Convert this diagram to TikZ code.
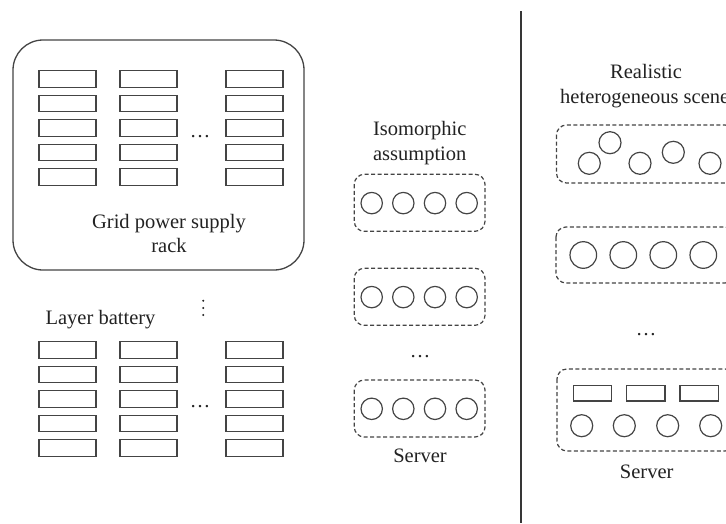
\documentclass[tikz,border=0pt]{standalone}
\usepackage{fontspec}
\setmainfont{Liberation Serif}
\definecolor{ln}{HTML}{444444}
\definecolor{tx}{HTML}{222222}
\tikzset{
  lbl/.style={text=tx, inner sep=0pt, anchor=base, font=\fontsize{20.5}{24.5}\selectfont},
  cell/.style={draw=ln, line width=1.3pt},
  dbox/.style={draw=ln, line width=1.2pt, dash pattern=on 4pt off 2.5pt, rounded corners=10pt},
  circ/.style={draw=ln, line width=1.2pt},
  sep/.style={draw=ln!80!black, line width=2pt}
}
\begin{document}
\begin{tikzpicture}[x=1pt,y=-1pt]
\useasboundingbox (0,0) rectangle (726,523);
\clip (0,0) rectangle (726,523);
% ---------- left: grid power supply rack ----------
\draw[draw=ln, line width=1.3pt, rounded corners=30pt] (13,40) rectangle (304,270);
\foreach \cx in {39,120,226}{
  \foreach \ry in {70.7,95.2,119.7,144.2,168.7}{
    \draw[cell] (\cx,\ry) rectangle ++(57,16.5);
  }
}
\node[lbl] (dotsA) at (200,137) {…};
\node[lbl] (grid1) at (169,228) {Grid power supply};
\node[lbl] (grid2) at (169,252) {rack};
% vertical dots
\foreach \vy in {300.7,308,315}{
  \fill[tx] (203.3,\vy) circle (1.1pt);
}
% ---------- left: layer battery ----------
\node[lbl] (layer) at (100.5,324.5) {Layer battery};
\foreach \cx in {39,120,226}{
  \foreach \ry in {341.7,366.2,390.7,415.2,439.7}{
    \draw[cell] (\cx,\ry) rectangle ++(57,16.5);
  }
}
\node[lbl] (dotsB) at (200,407.5) {…};
% ---------- middle: isomorphic assumption ----------
\node[lbl] (iso1) at (419.7,135.7) {Isomorphic};
\node[lbl] (iso2) at (419.7,160.2) {assumption};
\foreach \by in {174.3,268.3,380}{
  \draw[dbox] (354.3,\by) rectangle ++(130.7,57);
  \foreach \cx in {371.7,403.3,435,466.7}{
    \draw[circ] (\cx,\by+28.8) circle (10.7pt);
  }
}
\node[lbl] (dotsC) at (420,357) {…};
\node[lbl] (srvA) at (420,462.7) {Server};
% ---------- separator ----------
\draw[sep] (520.5,11) -- (520.5,523);
% ---------- right: realistic heterogeneous scene ----------
\node[lbl] (real1) at (646,78.3) {Realistic};
\node[lbl, anchor=base west] (real2) at (560,103) {heterogeneous scene};
\draw[dbox] (556.5,125) rectangle (735,183);
\foreach \cx/\cy in {589.3/163.3,610/142.7,640/163.3,673.3/152.3,710/163.3}{
  \draw[circ] (\cx,\cy) circle (11pt);
}
\draw[dbox] (556,227) rectangle (735,283);
\foreach \cx in {583.3,623.3,663.3,703.3}{
  \draw[circ] (\cx,255) circle (13.3pt);
}
\node[lbl] (dotsD) at (646,335) {…};
\draw[dbox] (557,369) rectangle (735,451);
\foreach \cx in {573.3,626.7,680}{
  \draw[cell] (\cx,385.7) rectangle ++(38.4,15.3);
}
\foreach \cx in {581.7,624.3,667.7,710.7}{
  \draw[circ] (\cx,425.7) circle (11pt);
}
\node[lbl] (srvB) at (646.7,478.3) {Server};
\end{tikzpicture}
\end{document}
